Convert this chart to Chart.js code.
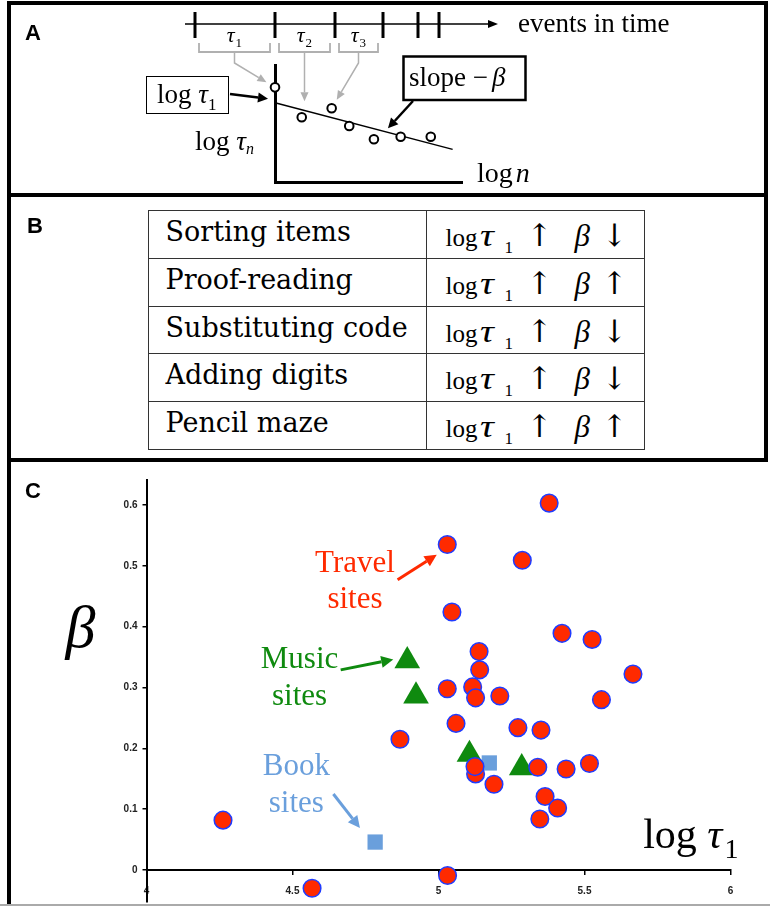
<!DOCTYPE html>
<html>
<head>
<meta charset="utf-8">
<script src="https://cdn.jsdelivr.net/npm/chart.js@4.4.1/dist/chart.umd.min.js"></script>
<style>
  html, body { margin: 0; padding: 0; background: #fff; }
  body { width: 770px; height: 907px; position: relative; overflow: hidden; }
  canvas { position: absolute; left: 0; }
  #panelA { top: 0; }
  #panelC { top: 462px; }
  .rule { position: absolute; background: #000; }
  .tag { position: absolute; font: bold 22px "Liberation Sans", sans-serif; color: #000; }
  #tasks { position: absolute; left: 147.5px; top: 209.5px; width: 497px; height: 240px;
           box-sizing: border-box; border: 1.5px solid #333; }
  #tasks .row { position: absolute; left: 0; right: 0; height: 47.6px; box-sizing: border-box; }
  #tasks .row + .row { border-top: 1.5px solid #333; }
  #tasks .name { position: absolute; left: 17px; top: 5px; line-height: 47.6px;
                 font: 27px "DejaVu Serif", serif; color: #000; white-space: nowrap; }
  #tasks .trend { position: absolute; left: 297px; top: 6px; line-height: 47.6px;
                  font: 25px "Liberation Serif", serif; color: #000; white-space: nowrap; }
  #tasks .trend span, #tasks .trend i { display: inline-block; }
  #tasks .trend i { font-size: 31px; }
  #tasks .trend i.wide { transform: scaleX(1.25); transform-origin: left center; }
  #tasks .sub { font-size: 17px; position: relative; top: 7px; }
  #tasks .arr { font-family: "DejaVu Serif", serif; font-size: 31px; }
  #tasks .divider { position: absolute; left: 277px; top: 0; bottom: 0; width: 1.5px; background: #333; }
</style>
</head>
<body>
<canvas id="panelA" width="770" height="193"></canvas>
<canvas id="panelC" width="770" height="480"></canvas>
<div id="tasks"></div>

<div class="tag" style="left:25px; top:20px;">A</div>
<div class="tag" style="left:27px; top:213px;">B</div>
<div class="tag" style="left:25px; top:478px;">C</div>

<!-- frame -->
<div class="rule" style="left:7px; top:1px; width:761px; height:4px;"></div>
<div class="rule" style="left:7px; top:1px; width:4px; height:904px;"></div>
<div class="rule" style="left:764px; top:1px; width:4px; height:461px;"></div>
<div class="rule" style="left:7px; top:193px; width:761px; height:4px;"></div>
<div class="rule" style="left:7px; top:458px; width:761px; height:4px;"></div>
<div class="rule" style="left:0; top:904px; width:770px; height:1.5px; background:#aaa;"></div>
<div class="rule" style="left:0; top:905.5px; width:770px; height:2px; background:#fff;"></div>

<script>
// ---------- Panel A: schematic of inter-event times ----------
const eventTimes = [0, 8, 14, 18.8, 22.3, 24.4];             // event onsets on the time line
const stepN      = [0, 1.43, 3.03, 3.97, 5.29, 6.72, 8.33];   // log n
const stepTau    = [8.09, 5.53, 6.30, 4.79, 3.65, 3.87, 3.87]; // log tau_n
const fitN       = [0, 9.5];
const fitTau     = [6.78, 2.79];

// ---------- Panel B: task effects ----------
const tasks      = ['Sorting items', 'Proof-reading', 'Substituting code', 'Adding digits', 'Pencil maze'];
const tauTrend   = ['↑', '↑', '↑', '↑', '↑'];
const betaTrend  = ['↓', '↑', '↓', '↓', '↑'];

// ---------- Panel C: web sites ----------
const travelLogTau = [5.030, 5.287, 5.046, 5.423, 5.526, 5.139, 5.141, 5.666, 5.030, 5.117,
                      5.127, 5.210, 5.558, 5.060, 5.272, 5.351, 5.517, 5.340, 5.437, 5.127,
                      5.125, 5.190, 5.365, 5.408, 5.347, 5.031, 4.868, 4.262, 4.567, 5.379];
const travelBeta   = [0.535, 0.509, 0.424, 0.389, 0.379, 0.359, 0.329, 0.322, 0.298, 0.301,
                      0.283, 0.286, 0.280, 0.241, 0.234, 0.230, 0.175, 0.169, 0.166, 0.158,
                      0.170, 0.141, 0.121, 0.102, 0.084, -0.009, 0.215, 0.082, -0.030, 0.603];
const musicLogTau  = [4.893, 4.923, 5.106, 5.285];
const musicBeta    = [0.344, 0.286, 0.190, 0.168];
const bookLogTau   = [4.783, 5.174];
const bookBeta     = [0.046, 0.176];
const xTicks = [4, 4.5, 5, 5.5, 6];
const yTicks = [0, 0.1, 0.2, 0.3, 0.4, 0.5, 0.6];

const SERIF = '"Liberation Serif", "Times New Roman", serif';
const RED = '#ff2a00', GREEN = '#0f8a0f', BOOKBLUE = '#6a9fdc';

function toPoints(xs, ys) { return xs.map((x, i) => ({ x: x, y: ys[i] })); }

function drawRuns(ctx, x, y, runs, align) {
  let total = 0;
  runs.forEach(r => { ctx.font = r.font; r.w = ctx.measureText(r.t).width; total += r.w + (r.gap || 0); });
  let cx = align === 'center' ? x - total / 2 : x;
  runs.forEach(r => { ctx.font = r.font; ctx.fillText(r.t, cx, y + (r.dy || 0)); cx += r.w + (r.gap || 0); });
}

function arrow(ctx, pts, color, width, head, halfW) {
  ctx.strokeStyle = color; ctx.fillStyle = color; ctx.lineWidth = width;
  const n = pts.length;
  const [tx, ty] = pts[n - 1], [px, py] = pts[n - 2];
  const a = Math.atan2(ty - py, tx - px);
  const bx = tx - head * Math.cos(a), by = ty - head * Math.sin(a);
  ctx.beginPath(); ctx.moveTo(pts[0][0], pts[0][1]);
  for (let i = 1; i < n - 1; i++) ctx.lineTo(pts[i][0], pts[i][1]);
  ctx.lineTo(bx, by); ctx.stroke();
  ctx.beginPath(); ctx.moveTo(tx, ty);
  ctx.lineTo(bx + halfW * Math.sin(a), by - halfW * Math.cos(a));
  ctx.lineTo(bx - halfW * Math.sin(a), by + halfW * Math.cos(a));
  ctx.closePath(); ctx.fill();
}

// Nudge layout padding until the plot area sits on the wanted canvas box.
function pinChartArea(chart, box) {
  const p = chart.config.options.layout.padding;
  for (let k = 0; k < 4; k++) {
    const ca = chart.chartArea;
    p.left += box.left - ca.left;
    p.right += ca.right - box.right;
    p.top += box.top - ca.top;
    p.bottom += ca.bottom - box.bottom;
    chart.update();
  }
}

const schematic = {
  id: 'schematic',
  afterDraw(chart) {
    const { ctx, scales: { x, y, t } } = chart;
    ctx.save();
    ctx.textAlign = 'left'; ctx.textBaseline = 'alphabetic'; ctx.fillStyle = '#000';

    // time line with event marks
    const lineY = 24;
    arrow(ctx, [[t.getPixelForValue(-1), lineY], [t.getPixelForValue(30.3), lineY]], '#000', 1.5, 10, 4);
    ctx.lineWidth = 3; ctx.strokeStyle = '#000';
    eventTimes.forEach(v => {
      const px = t.getPixelForValue(v);
      ctx.beginPath(); ctx.moveTo(px, 12); ctx.lineTo(px, 38); ctx.stroke();
    });
    ctx.fillStyle = '#000';
    ctx.font = '27px ' + SERIF;
    ctx.fillText('events in time', 518, 32);

    // interval brackets, labels and pointers to the first three points
    for (let i = 0; i < 3; i++) {
      const a = t.getPixelForValue(eventTimes[i]) + 4;
      const b = t.getPixelForValue(eventTimes[i + 1]) - 5;
      const c = (a + b) / 2;
      ctx.strokeStyle = '#b0b0b0'; ctx.lineWidth = 1.8;
      ctx.beginPath(); ctx.moveTo(a, 43); ctx.lineTo(a, 52); ctx.lineTo(b, 52); ctx.lineTo(b, 43); ctx.stroke();
      ctx.fillStyle = '#000';
      ctx.font = 'italic 22px ' + SERIF; ctx.textAlign = 'right';
      ctx.fillText('τ', c, 42);
      ctx.font = '13px ' + SERIF; ctx.textAlign = 'left';
      ctx.fillText(String(i + 1), c + 1, 47);
      const px = x.getPixelForValue(stepN[i]), py = y.getPixelForValue(stepTau[i]);
      if (Math.abs(px - c) < 6) {
        arrow(ctx, [[c, 52], [c, py - 16]], '#b0b0b0', 1.5, 9, 4);
      } else {
        const dx = px - c, dy = py - 63, len = Math.hypot(dx, dy);
        arrow(ctx, [[c, 52], [c, 63], [px - 10 * dx / len, py - 10 * dy / len]], '#b0b0b0', 1.5, 9, 4);
      }
    }

    // "log tau_1" box and pointer to the intercept
    ctx.fillStyle = '#000';
    ctx.strokeStyle = '#000'; ctx.lineWidth = 1;
    ctx.strokeRect(146.5, 76.5, 82, 37);
    drawRuns(ctx, 157, 103, [
      { t: 'log ', font: '27px ' + SERIF },
      { t: 'τ', font: 'italic 27px ' + SERIF },
      { t: '1', font: '17px ' + SERIF, dy: 7 }
    ]);
    const ix = x.getPixelForValue(fitN[0]), iy = y.getPixelForValue(fitTau[0]);
    arrow(ctx, [[230, 94], [ix - 7, iy - 4]], '#000', 2.5, 10, 5);

    // axis labels
    drawRuns(ctx, 195, 150, [
      { t: 'log ', font: '27px ' + SERIF },
      { t: 'τ', font: 'italic 27px ' + SERIF },
      { t: 'n', font: 'italic 16px ' + SERIF, dy: 4 }
    ]);
    drawRuns(ctx, 477, 182, [
      { t: 'log', font: '28px ' + SERIF, gap: 3 },
      { t: 'n', font: 'italic 28px ' + SERIF }
    ]);

    // "slope -beta" box and pointer to the fitted line
    ctx.strokeRect(403.5, 56.5, 122, 43.5);
    drawRuns(ctx, 409, 86, [
      { t: 'slope ', font: '27px ' + SERIF },
      { t: '−', font: '27px ' + SERIF, gap: 4 },
      { t: 'β', font: 'italic 27px ' + SERIF }
    ]);
    const sn = 6.04;
    const sTau = fitTau[0] + (fitTau[1] - fitTau[0]) * (sn - fitN[0]) / (fitN[1] - fitN[0]);
    arrow(ctx, [[413, 101], [x.getPixelForValue(sn), y.getPixelForValue(sTau) - 4]], '#000', 2.5, 10, 5);
    ctx.restore();
  }
};

const chartA = new Chart(document.getElementById('panelA'), {
  type: 'scatter',
  data: {
    datasets: [
      { data: toPoints(stepN, stepTau), pointRadius: 4.3, pointBorderWidth: 2,
        borderColor: '#000', backgroundColor: '#fff', clip: false },
      { type: 'line', data: toPoints(fitN, fitTau), borderColor: '#000', borderWidth: 1.5,
        pointRadius: 0, clip: false }
    ]
  },
  options: {
    responsive: false, animation: false, events: [],
    layout: { padding: { left: 275, right: 308, top: 65, bottom: 11 } },
    plugins: { legend: { display: false }, tooltip: { enabled: false } },
    scales: {
      x: { type: 'linear', min: 0, max: 10, ticks: { display: false },
           grid: { display: false, drawTicks: false }, border: { display: true, color: '#000', width: 3 } },
      y: { type: 'linear', min: 0, max: 10, ticks: { display: false },
           grid: { display: false, drawTicks: false }, border: { display: true, color: '#000', width: 3 } },
      t: { type: 'linear', axis: 'x', display: false, min: 8, max: 26.7 }
    }
  },
  plugins: [schematic]
});
pinChartArea(chartA, { left: 275, right: 462, top: 65, bottom: 182 });

// ---------- Panel B table ----------
const table = document.getElementById('tasks');
tasks.forEach((name, i) => {
  const row = document.createElement('div');
  row.className = 'row';
  row.style.top = (i * 47.6) + 'px';
  row.innerHTML =
    '<span class="name">' + name + '</span>' +
    '<span class="trend">' +
      '<span style="width:34px">log</span>' +
      '<i class="wide" style="width:25px">τ</i><span class="sub" style="width:22px">1</span>' +
      '<span class="arr" style="width:48px">' + tauTrend[i] + '</span>' +
      '<i style="width:27px">β</i><span class="arr">' + betaTrend[i] + '</span>' +
    '</span>';
  table.appendChild(row);
});
const divider = document.createElement('div');
divider.className = 'divider';
table.appendChild(divider);

// ---------- Panel C scatter ----------
const annotate = {
  id: 'annotate',
  afterDatasetsDraw(chart) {
    const { ctx, scales: { x, y } } = chart;
    const P = (a, b) => [x.getPixelForValue(a), y.getPixelForValue(b)];
    ctx.save();
    ctx.textAlign = 'left'; ctx.textBaseline = 'alphabetic';

    ctx.fillStyle = RED;
    drawRuns(ctx, ...P(4.714, 0.490), [{ t: 'Travel', font: '31px ' + SERIF }], 'center');
    drawRuns(ctx, ...P(4.714, 0.430), [{ t: 'sites', font: '31px ' + SERIF }], 'center');
    arrow(ctx, [P(4.860, 0.477), P(4.994, 0.518)], RED, 3, 12, 6);

    ctx.fillStyle = GREEN;
    drawRuns(ctx, ...P(4.524, 0.332), [{ t: 'Music', font: '31px ' + SERIF }], 'center');
    drawRuns(ctx, ...P(4.524, 0.271), [{ t: 'sites', font: '31px ' + SERIF }], 'center');
    arrow(ctx, [P(4.665, 0.329), P(4.845, 0.346)], GREEN, 3, 12, 6);

    ctx.fillStyle = BOOKBLUE;
    drawRuns(ctx, ...P(4.513, 0.156), [{ t: 'Book', font: '31px ' + SERIF }], 'center');
    drawRuns(ctx, ...P(4.513, 0.096), [{ t: 'sites', font: '31px ' + SERIF }], 'center');
    arrow(ctx, [P(4.640, 0.125), P(4.731, 0.069)], BOOKBLUE, 3, 12, 6);

    ctx.fillStyle = '#000';
    drawRuns(ctx, ...P(3.774, 0.367), [{ t: 'β', font: 'italic 60px ' + SERIF }], 'center');
    drawRuns(ctx, ...P(5.701, 0.036), [
      { t: 'log ', font: '42px ' + SERIF },
      { t: 'τ', font: 'italic 42px ' + SERIF, gap: 2 },
      { t: '1', font: '28px ' + SERIF, dy: 10 }
    ]);
    ctx.restore();
  }
};

const tickFont = { family: '"Liberation Sans", sans-serif', size: 10, weight: 'bold' };

const chartC = new Chart(document.getElementById('panelC'), {
  type: 'scatter',
  data: {
    datasets: [
      { label: 'Travel sites', data: toPoints(travelLogTau, travelBeta), pointStyle: 'circle',
        pointRadius: 8.8, pointBorderWidth: 1.5, backgroundColor: RED, borderColor: '#1f3cff', clip: false },
      { label: 'Music sites', data: toPoints(musicLogTau, musicBeta), pointStyle: 'triangle',
        pointRadius: 14.8, pointBorderWidth: 0, backgroundColor: GREEN, borderColor: GREEN, clip: false },
      { label: 'Book sites', data: toPoints(bookLogTau, bookBeta), pointStyle: 'rect',
        pointRadius: 10.8, pointBorderWidth: 0, backgroundColor: BOOKBLUE, borderColor: BOOKBLUE, clip: false }
    ]
  },
  options: {
    responsive: false, animation: false, events: [],
    layout: { padding: { left: 120, right: 39.5, top: 18, bottom: 40 } },
    plugins: { legend: { display: false }, tooltip: { enabled: false } },
    scales: {
      x: {
        type: 'linear', position: { y: 0 }, min: 4, max: 6,
        afterBuildTicks: s => { s.ticks = xTicks.map(v => ({ value: v })); },
        ticks: { callback: v => String(v), font: tickFont, color: '#222', padding: 11,
                 maxRotation: 0, autoSkip: false },
        grid: { drawOnChartArea: false, drawTicks: true, tickLength: 4, color: '#000', lineWidth: 1.5 },
        border: { display: true, color: '#000', width: 2 }
      },
      y: {
        type: 'linear', position: 'left', min: -0.052, max: 0.641,
        afterBuildTicks: s => { s.ticks = yTicks.map(v => ({ value: v })); },
        ticks: { callback: v => String(v), font: tickFont, color: '#222', padding: 5, autoSkip: false },
        grid: { drawOnChartArea: false, drawTicks: true, tickLength: 4, color: '#000', lineWidth: 1.5 },
        border: { display: true, color: '#000', width: 2 }
      }
    }
  },
  plugins: [annotate]
});
pinChartArea(chartC, { left: 146.5, right: 730.5, top: 18, bottom: 439.7 });
</script>
</body>
</html>
